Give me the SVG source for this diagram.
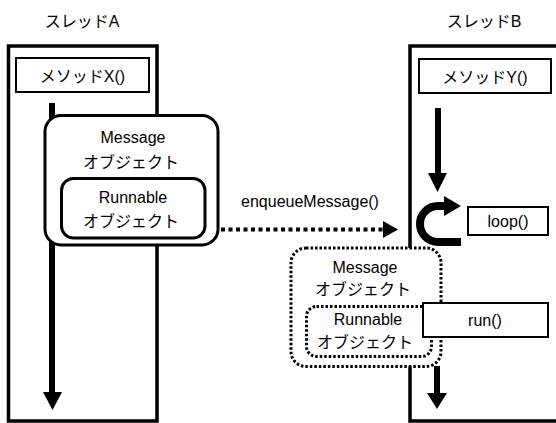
<svg xmlns="http://www.w3.org/2000/svg" width="556" height="423" viewBox="0 0 556 423">
<style>
text{font-family:"Liberation Sans","Noto Sans CJK JP",sans-serif;font-size:16px;fill:#000;text-anchor:middle}
.thread{fill:#fff;stroke:#000;stroke-width:3.5}
.method{fill:#fff;stroke:#000;stroke-width:2}
.obj{fill:#fff;stroke:#000;stroke-width:3}
.dobj{fill:#fff;stroke:#000;stroke-width:3;stroke-dasharray:2.5 2}
.flow{stroke:#000;stroke-width:6;fill:none}
</style>
<text x="82" y="27">スレッドA</text>
<text x="484" y="27">スレッドB</text>
<g id="threadA"><rect class="thread" x="8.5" y="46" width="148.5" height="375"/></g>
<g id="threadB"><rect class="thread" x="410" y="46" width="160" height="375"/></g>
<g id="methodX"><rect class="method" x="16" y="58" width="133" height="34"/><text x="82.5" y="82">メソッドX()</text></g>
<g id="methodY"><rect class="method" x="419" y="59" width="132" height="34"/><text x="485" y="83">メソッドY()</text></g>
<g id="connectors">
<line class="flow" x1="52" y1="103" x2="52" y2="393"/>
<polygon points="43,392 62,392 52.5,410"/>
<line class="flow" x1="438" y1="108" x2="438" y2="174"/>
<polygon points="428,173 447,173 437.5,192"/>
<path d="M446,206 H438 A18,18 0 0 0 438,242 H461" fill="none" stroke="#000" stroke-width="8"/>
<polygon points="444,196 461,206 444,216"/>
<line class="flow" x1="437" y1="366" x2="437" y2="394"/>
<polygon points="427,393 447,393 437,409"/>
<line x1="221" y1="229.5" x2="384" y2="229.5" stroke="#000" stroke-width="4" stroke-dasharray="4 3.5"/>
<polygon points="383,221 398,229.5 383,238"/>
<text x="310" y="207">enqueueMessage()</text>
</g>
<g id="messageA"><rect class="obj" x="45" y="115.5" width="173" height="129.5" rx="16"/><text x="133" y="143">Message</text><text x="131" y="168">オブジェクト</text></g>
<g id="runnableA"><rect class="obj" x="61.5" y="178.5" width="143.5" height="59.5" rx="12"/><text x="133" y="203">Runnable</text><text x="131" y="227">オブジェクト</text></g>
<g id="loop"><rect class="method" x="468" y="207" width="80" height="28"/><text x="508" y="227">loop()</text></g>
<g id="messageB"><rect class="dobj" x="291" y="248" width="150" height="118.5" rx="15"/><text x="365" y="273">Message</text><text x="363" y="295">オブジェクト</text></g>
<g id="runnableB"><rect class="dobj" x="306.5" y="306.5" width="125" height="50" rx="10"/><text x="368" y="325">Runnable</text><text x="365" y="348">オブジェクト</text></g>
<g id="run"><rect class="method" x="423" y="303" width="125" height="34"/><text x="485" y="326">run()</text></g>
</svg>
